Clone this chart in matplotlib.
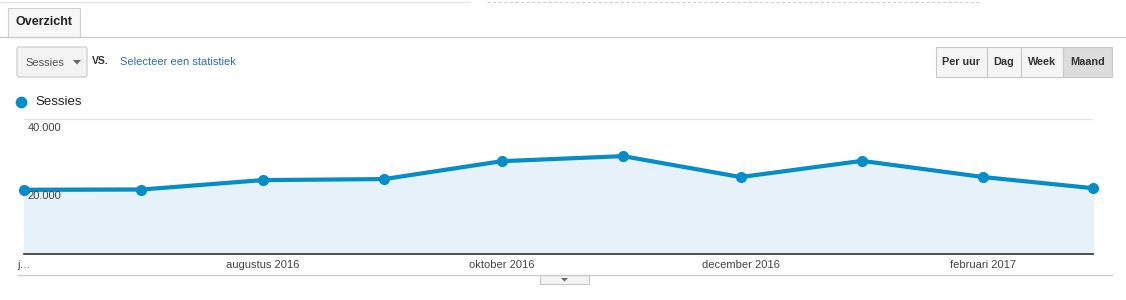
import numpy as np
import matplotlib.pyplot as plt
import matplotlib.dates as mdates
from matplotlib.patches import Rectangle, FancyBboxPatch, Polygon
import matplotlib.transforms as mtransforms

plt.rcParams['font.family'] = ['Liberation Sans', 'DejaVu Sans']

# data (monthly sessions, juni 2016 - maart 2017)
months = ['2016-06-01', '2016-07-01', '2016-08-01', '2016-09-01', '2016-10-01',
          '2016-11-01', '2016-12-01', '2017-01-01', '2017-02-01', '2017-03-01']
sessions = [19000, 19100, 21900, 22200, 27500, 29000, 22800, 27600, 22800, 19500]
tick_months = ['2016-06-01', '2016-08-01', '2016-10-01', '2016-12-01', '2017-02-01']
tick_labels = ['j\u2026', 'augustus 2016', 'oktober 2016', 'december 2016', 'februari 2017']
y_ticks = [20000, 40000]
y_labels = ['20.000', '40.000']
buttons = ['Per uur', 'Dag', 'Week', 'Maand']

W, H = 1126, 300
line_col = '#058dc7'
fill_col = '#e6f1f9'

fig = plt.figure(figsize=(W / 100, H / 100), dpi=100)

# overlay in pixel coordinates for the UI chrome
ui = fig.add_axes([0, 0, 1, 1], zorder=0)
ui.set_xlim(0, W)
ui.set_ylim(H, 0)
ui.axis('off')

# top faint borders
ui.plot([0, 470], [2, 2], color='#e6e6e6', lw=1)
ui.plot([487, 980], [2, 2], color='#d0d0d0', lw=0.8, ls=(0, (3, 2)))

# tab
ui.add_patch(Rectangle((8, 8), 72, 29, facecolor='#f7f7f7', edgecolor='#cfcfcf', lw=0.8))
ui.plot([0, W], [36.5, 36.5], color='#cccccc', lw=1)
ui.add_patch(Rectangle((8.5, 35), 71, 3, facecolor='#f7f7f7', edgecolor='none'))
ui.text(16, 22, 'Overzicht', fontsize=9, fontweight='bold', color='#222222', va='center')

# dropdown
ui.add_patch(FancyBboxPatch((17, 47), 70, 30, boxstyle='round,pad=0,rounding_size=2',
                            facecolor='#f3f3f3', edgecolor='#c8c8c8', lw=0.8))
ui.text(25, 62.5, 'Sessies', fontsize=8, color='#555555', va='center')
ui.add_patch(Polygon([[73, 60], [81, 60], [77, 64.5]], closed=True, facecolor='#666666'))
ui.text(92, 61, 'VS.', fontsize=7.5, fontweight='bold', color='#333333', va='center')
ui.text(120, 62, 'Selecteer een statistiek', fontsize=8, color='#2a6db5', va='center')

# period buttons
edges = [936, 987, 1021, 1063, 1112]
for i, lab in enumerate(buttons):
    x0, x1 = edges[i], edges[i + 1]
    fc = '#dcdcdc' if lab == 'Maand' else '#f5f5f5'
    ui.add_patch(Rectangle((x0, 47), x1 - x0, 30, facecolor=fc, edgecolor='#c8c8c8', lw=0.8))
    ui.text((x0 + x1) / 2, 62, lab, fontsize=7.8, fontweight='bold', color='#333333',
            ha='center', va='center')

# legend
ui.scatter([21], [102], s=55, color=line_col, zorder=3)
ui.text(35, 102, 'Sessies', fontsize=9.5, color='#222222', va='center')

# bottom rule and small toggle button
ui.plot([18, 1112], [275, 275], color='#cccccc', lw=1)
ui.add_patch(Rectangle((540, 275), 49, 9, facecolor='#f3f3f3', edgecolor='#c8c8c8', lw=0.8))
ui.add_patch(Polygon([[561, 278], [568, 278], [564.5, 281.5]], closed=True, facecolor='#666666'))

# chart
ax = fig.add_axes([24 / W, 1 - 254 / H, (1093 - 24) / W, (254 - 119) / H], zorder=1)
ax.set_facecolor('none')
x = mdates.date2num(np.array(months, dtype='datetime64[D]'))
ax.fill_between(x, sessions, 0, color=fill_col, zorder=1)
ax.plot(x, sessions, color=line_col, lw=3, marker='o', ms=7, zorder=3, clip_on=False)
ax.set_xlim(x[0], x[-1])
ax.set_ylim(0, 40000)

for v in y_ticks:
    ax.axhline(v, color='#e2e2e2', lw=0.9, zorder=0.5)
trans = mtransforms.blended_transform_factory(ax.transAxes, ax.transData)
for v, lab in zip(y_ticks, y_labels):
    ax.annotate(lab, xy=(0, v), xycoords=trans, xytext=(2.5, -3), textcoords='offset points',
                fontsize=8, color='#444444', ha='left', va='top', zorder=4)

ax.set_yticks([])
ax.set_xticks(mdates.date2num(np.array(tick_months, dtype='datetime64[D]')))
ax.set_xticklabels(tick_labels, fontsize=8, color='#444444')
ax.tick_params(axis='x', length=0, pad=4)
for s in ['top', 'right', 'left']:
    ax.spines[s].set_visible(False)
ax.spines['bottom'].set_color('#333333')
ax.spines['bottom'].set_linewidth(1.2)

fig.savefig('out.png', dpi=100)
